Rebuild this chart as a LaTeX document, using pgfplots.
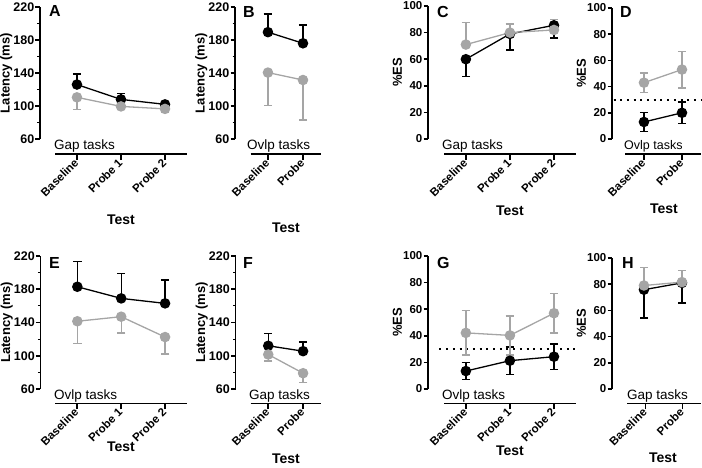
\documentclass[border=0pt]{standalone}
\usepackage{fontspec}
\setmainfont{Liberation Sans}
\usepackage{pgfplots}
\pgfplotsset{compat=1.18}
\definecolor{gr}{RGB}{165,165,165}
\pgfplotsset{
  panel/.style={scale only axis, anchor=south west, axis y line*=left, axis x line=none, clip=false,
    tick align=outside, major tick length=4.5pt, minor tick length=2.5pt,
    y axis line style={line width=1.6pt},
    every tick/.style={line width=1.6pt, black},
    every minor tick/.style={line width=1.2pt, black},
    /pgf/number format/assume math mode=true,
    yticklabel style={font=\bfseries\fontsize{11.5}{11.5}\selectfont, inner sep=1pt},
    ylabel style={font=\bfseries\fontsize{13}{13}\selectfont, inner sep=0pt}},
  lat/.style={ymin=60, ymax=220, ytick={60,100,...,220}, minor ytick={80,120,...,200}, ylabel={Latency (ms)},
    yticklabel style={font=\bfseries\fontsize{12.5}{12.5}\selectfont}},
  es/.style={ymin=0, ymax=100, ytick={0,20,...,100}, ylabel={\%ES}},
  xpanel/.style={scale only axis, anchor=south west, axis x line*=bottom, axis y line=none,
    height=5pt, ymin=0, ymax=1, xmin=-0.5, tick align=outside, major tick length=6pt,
    x axis line style={line width=1.6pt, -},
    every tick/.style={line width=1.6pt, black},
    xticklabel style={font=\bfseries\fontsize{11.5}{11.5}\selectfont, rotate=45, anchor=east, inner sep=1pt}},
  blk/.style={black, line width=1.3pt, mark=*, mark size=4.6pt, mark options={solid},
    /pgfplots/error bars/error mark=-,
    /pgfplots/error bars/error bar style={line width=1.4pt},
    /pgfplots/error bars/error mark options={rotate=90, line width=1.4pt, mark size=4.2pt}},
  gry/.style={gr, line width=1.3pt, mark=*, mark size=4.6pt, mark options={solid},
    /pgfplots/error bars/error mark=-,
    /pgfplots/error bars/error bar style={line width=1.4pt},
    /pgfplots/error bars/error mark options={rotate=90, line width=1.4pt, mark size=4.2pt}},
  refl/.style={black, line width=2pt, dash pattern=on 2pt off 4.7pt, forget plot},
}
\tikzset{lett/.style={anchor=base west, font=\bfseries\fontsize{16}{16}\selectfont, inner sep=0pt},
  task/.style={anchor=base west, font=\fontsize{13.5}{13.5}\selectfont, inner sep=0pt},
  tst/.style={font=\bfseries\fontsize{14}{14}\selectfont, inner sep=0pt}}
\begin{document}
\begin{tikzpicture}
\useasboundingbox (0pt,0pt) rectangle (702pt,467pt);
% ---------------- A ----------------
\begin{axis}[panel, lat, at={(40pt,328pt)}, width=147pt, height=132pt, xmin=-0.84, xmax=2.5]
\addplot[blk, error bars/.cd, y dir=plus, y explicit] coordinates {(0,126)+-(0,13) (1,108)+-(0,7) (2,102)+-(0,2.5)};
\addplot[gry, error bars/.cd, y dir=minus, y explicit] coordinates {(0,110.5)+-(0,15) (1,99.5)+-(0,3) (2,96.5)+-(0,4)};
\end{axis}
\begin{axis}[xpanel, at={(55pt,313pt)}, width=132pt, xmax=2.5, xtick={0,1,2}, xticklabels={Baseline,Probe 1,Probe 2}]
\addplot[draw=none] coordinates {(0,0)};
\end{axis}
\node[task] at (54pt,317.5pt) {Gap tasks};
\node[tst] at (121pt,247pt) {Test};
\node[lett] at (49pt,450pt) {A};
% ---------------- B ----------------
\begin{axis}[panel, lat, at={(235pt,328pt)}, width=85.5pt, height=132pt, xmin=-0.94, xmax=1.5]
\addplot[blk, error bars/.cd, y dir=plus, y explicit] coordinates {(0,189.5)+-(0,22) (1,176)+-(0,22)};
\addplot[gry, error bars/.cd, y dir=minus, y explicit] coordinates {(0,140.5)+-(0,40) (1,131.5)+-(0,48.5)};
\end{axis}
\begin{axis}[xpanel, at={(250.5pt,313pt)}, width=70pt, xmax=1.5, xtick={0,1}, xticklabels={Baseline,Probe}]
\addplot[draw=none] coordinates {(0,0)};
\end{axis}
\node[task] at (247pt,317.5pt) {Ovlp tasks};
\node[tst] at (286pt,239pt) {Test};
\node[lett] at (243pt,449pt) {B};
% ---------------- C ----------------
\begin{axis}[panel, es, at={(428pt,328pt)}, width=148pt, height=133pt, xmin=-0.86, xmax=2.5]
\addplot[blk, error bars/.cd, y dir=minus, y explicit] coordinates {(0,60)+-(0,13) (1,79)+-(0,12) (2,85.5)+-(0,9.5)};
\addplot[gry, error bars/.cd, y dir=plus, y explicit] coordinates {(0,71)+-(0,16.5) (1,80)+-(0,6.5) (2,82)+-(0,8)};
\end{axis}
\begin{axis}[xpanel, at={(444pt,313pt)}, width=132pt, xmax=2.5, xtick={0,1,2}, xticklabels={Baseline,Probe 1,Probe 2}]
\addplot[draw=none] coordinates {(0,0)};
\end{axis}
\node[task] at (442pt,318pt) {Gap tasks};
\node[tst] at (510pt,256pt) {Test};
\node[lett] at (437pt,449pt) {C};
% ---------------- D ----------------
\begin{axis}[panel, es, at={(612pt,328pt)}, width=89pt, height=131pt, xmin=-0.84, xmax=1.5]
\addplot[refl] coordinates {(-0.8,30) (1.5,30)};
\addplot[blk, error bars/.cd, y dir=both, y explicit] coordinates {(0,13)+-(0,7.3) (1,20)+-(0,8.2)};
\addplot[gry, error bars/.cd, y dir=both, y explicit] coordinates {(0,43)+-(0,7.4) (1,53)+-(0,14)};
\end{axis}
\begin{axis}[xpanel, at={(625pt,313pt)}, width=76pt, xmax=1.5, xtick={0,1}, xticklabels={Baseline,Probe}]
\addplot[draw=none] coordinates {(0,0)};
\end{axis}
\node[task, font=\fontsize{12.5}{12.5}\selectfont] at (624pt,318pt) {Ovlp tasks};
\node[tst] at (664pt,258pt) {Test};
\node[lett] at (620pt,449pt) {D};
% ---------------- E ----------------
\begin{axis}[panel, lat, at={(40.5pt,78pt)}, width=146.5pt, height=133pt, xmin=-0.84, xmax=2.5]
\addplot[blk, error bars/.cd, y dir=plus, y explicit] coordinates {(0,183)+-(0,30.5) (1,169)+-(0,30) (2,163)+-(0,28)};
\addplot[gry, error bars/.cd, y dir=minus, y explicit] coordinates {(0,141.5)+-(0,27) (1,147)+-(0,19.5) (2,122.5)+-(0,20.5)};
\end{axis}
\begin{axis}[xpanel, at={(55pt,63.7pt)}, width=132pt, xmax=2.5, xtick={0,1,2}, xticklabels={Baseline,Probe 1,Probe 2}]
\addplot[draw=none] coordinates {(0,0)};
\end{axis}
\node[task] at (54pt,68pt) {Ovlp tasks};
\node[tst] at (121pt,20pt) {Test};
\node[lett] at (49pt,199pt) {E};
% ---------------- F ----------------
\begin{axis}[panel, lat, at={(235.5pt,78pt)}, width=85pt, height=133pt, xmin=-0.94, xmax=1.5]
\addplot[blk, error bars/.cd, y dir=plus, y explicit] coordinates {(0,112)+-(0,15) (1,105.5)+-(0,11)};
\addplot[gry, error bars/.cd, y dir=minus, y explicit] coordinates {(0,101.5)+-(0,8) (1,79)+-(0,11)};
\end{axis}
\begin{axis}[xpanel, at={(250.5pt,63.7pt)}, width=70pt, xmax=1.5, xtick={0,1}, xticklabels={Baseline,Probe}]
\addplot[draw=none] coordinates {(0,0)};
\end{axis}
\node[task] at (249pt,68pt) {Gap tasks};
\node[tst] at (286pt,8pt) {Test};
\node[lett] at (243pt,199pt) {F};
% ---------------- G ----------------
\begin{axis}[panel, es, at={(428pt,78pt)}, width=148pt, height=133pt, xmin=-0.86, xmax=2.5]
\addplot[refl] coordinates {(-0.6,30) (2.5,30)};
\addplot[blk, error bars/.cd, y dir=both, y explicit] coordinates {(0,13.5)+-(0,6.3) (1,21.3)+-(0,10.4) (2,24.3)+-(0,9.5)};
\addplot[gry, error bars/.cd, y dir=both, y explicit] coordinates {(0,42.2)+-(0,16.6) (1,40.3)+-(0,14.7) (2,57)+-(0,14.8)};
\end{axis}
\begin{axis}[xpanel, at={(444pt,63.7pt)}, width=132pt, xmax=2.5, xtick={0,1,2}, xticklabels={Baseline,Probe 1,Probe 2}]
\addplot[draw=none] coordinates {(0,0)};
\end{axis}
\node[task] at (442pt,68pt) {Ovlp tasks};
\node[tst] at (510pt,16pt) {Test};
\node[lett] at (437pt,199pt) {G};
% ---------------- H ----------------
\begin{axis}[panel, es, at={(612pt,78pt)}, width=89pt, height=131pt, xmin=-0.84, xmax=1.5]
\addplot[blk, error bars/.cd, y dir=minus, y explicit] coordinates {(0,75.8)+-(0,21.7) (1,81)+-(0,15.3)};
\addplot[gry, error bars/.cd, y dir=plus, y explicit] coordinates {(0,79)+-(0,13.8) (1,81.6)+-(0,9)};
\end{axis}
\begin{axis}[xpanel, at={(627pt,63.7pt)}, width=74pt, xmax=1.5, xtick={0,1}, xticklabels={Baseline,Probe}]
\addplot[draw=none] coordinates {(0,0)};
\end{axis}
\node[task] at (627pt,68pt) {Gap tasks};
\node[tst] at (663pt,9pt) {Test};
\node[lett] at (622pt,199pt) {H};
\end{tikzpicture}
\end{document}
